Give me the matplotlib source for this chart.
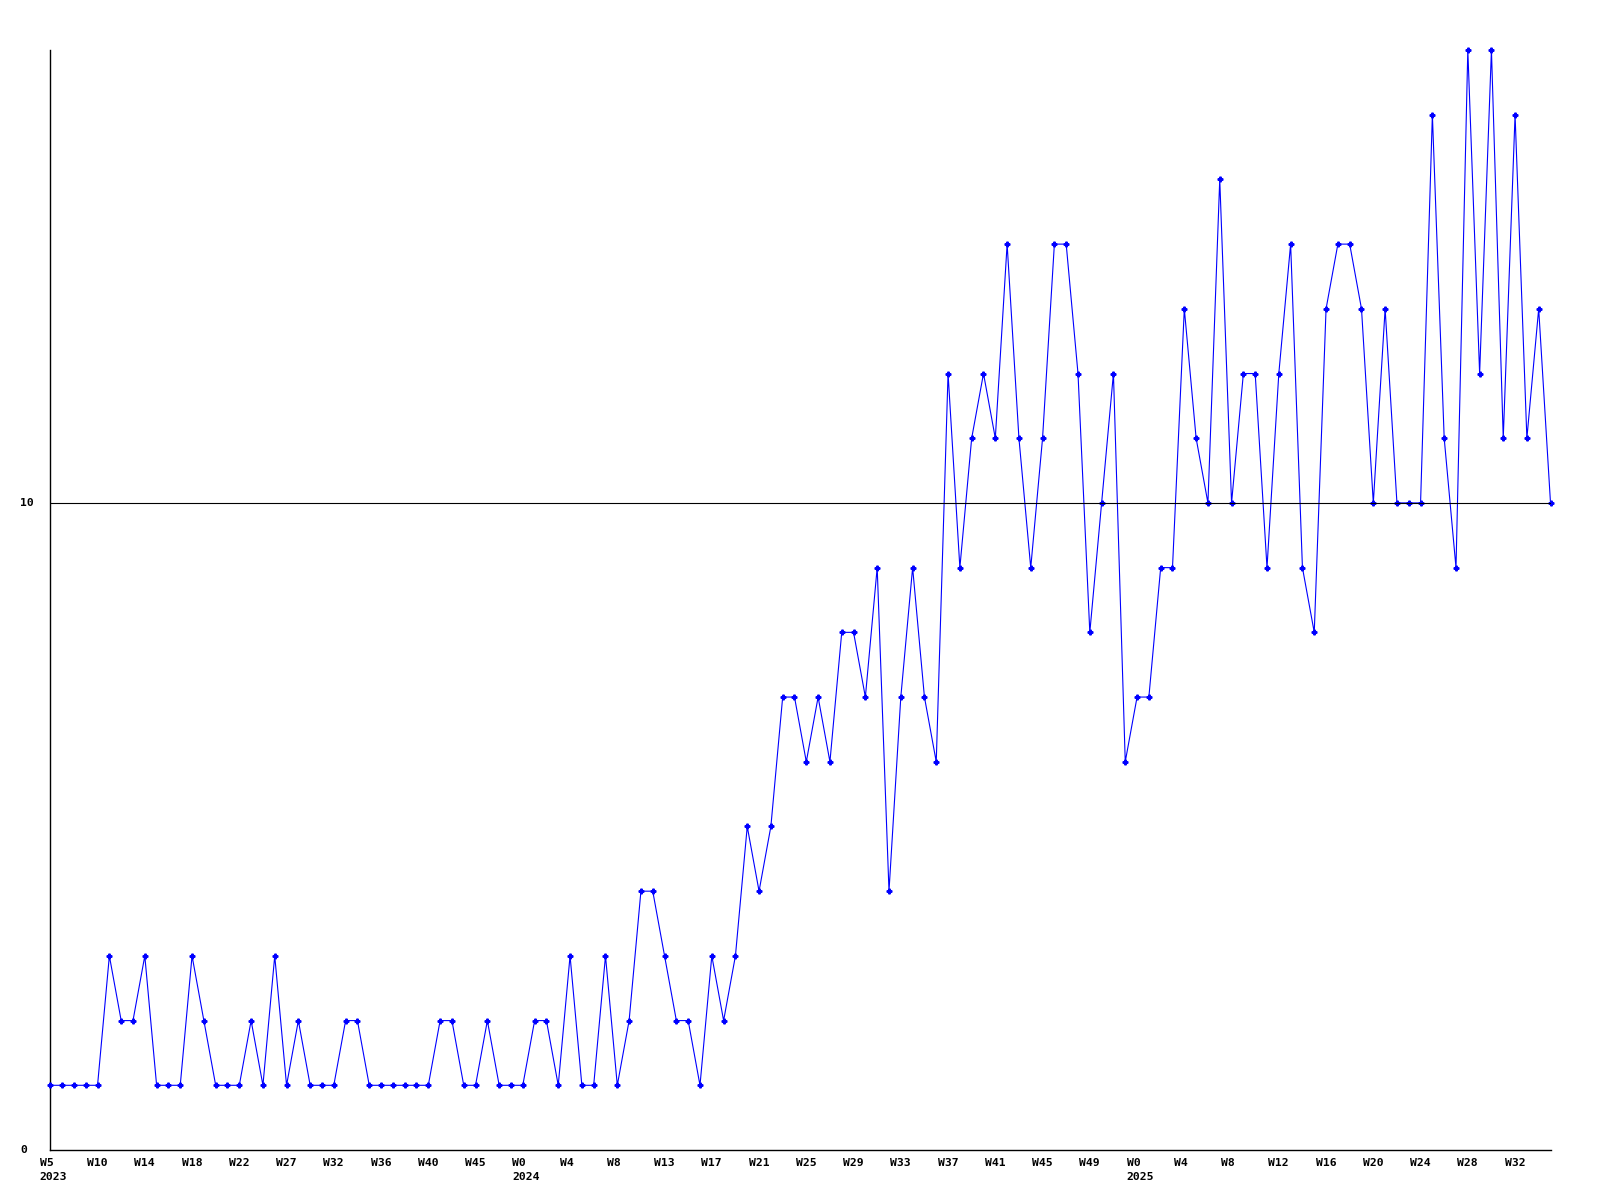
import matplotlib
matplotlib.use("Agg")
import matplotlib.pyplot as plt
import matplotlib.transforms as mtransforms

values = [
    1, 1, 1, 1, 1, 3, 2, 2, 3, 1, 1, 1, 3, 2, 1, 1, 1, 2, 1, 3,
    1, 2, 1, 1, 1, 2, 2, 1, 1, 1, 1, 1, 1, 2, 2, 1, 1, 2, 1, 1,
    1, 2, 2, 1, 3, 1, 1, 3, 1, 2, 4, 4, 3, 2, 2, 1, 3, 2, 3, 5,
    4, 5, 7, 7, 6, 7, 6, 8, 8, 7, 9, 4, 7, 9, 7, 6, 12, 9, 11, 12,
    11, 14, 11, 9, 11, 14, 14, 12, 8, 10, 12, 6, 7, 7, 9, 9, 13, 11, 10, 15,
    10, 12, 12, 9, 12, 14, 9, 8, 13, 14, 14, 13, 10, 13, 10, 10, 10, 16, 11, 9,
    17, 12, 17, 11, 16, 11, 13, 10,
]
week_labels = ["W5", "W10", "W14", "W18", "W22", "W27", "W32", "W36", "W40", "W45",
               "W0", "W4", "W8", "W13", "W17", "W21", "W25", "W29", "W33", "W37",
               "W41", "W45", "W49", "W0", "W4", "W8", "W12", "W16", "W20", "W24",
               "W28", "W32"]
label_step = 4
year_labels = {0: "2023", 40: "2024", 92: "2025"}
y_labels = [0, 10]
y_max = 17

fig = plt.figure(figsize=(16, 12), dpi=100)
ax = fig.add_axes([50.3 / 1600, 1 - 1150 / 1200, 1500.2 / 1600, 1100 / 1200])

x = list(range(len(values)))
ax.plot(x, values, color="#0000FF", lw=0.8, marker="P", ms=3.4,
        mec="#0000FF", mfc="#0000FF", zorder=3, clip_on=False)

ax.set_xlim(0, len(values) - 1)
ax.set_ylim(0, y_max)
for s in ["top", "right"]:
    ax.spines[s].set_visible(False)
for s in ["left", "bottom"]:
    ax.spines[s].set_linewidth(1.0)
    ax.spines[s].set_color("black")
ax.set_xticks([])
ax.set_yticks([])

# horizontal reference lines
for yv in y_labels[1:]:
    ax.axhline(yv, color="black", lw=0.8, zorder=4)

font = dict(family="DejaVu Sans Mono", weight="bold", size=8.2, color="black")

xt = mtransforms.offset_copy(ax.get_xaxis_transform(), fig=fig, x=-10.5, y=0, units="dots")
for i, lab in enumerate(week_labels):
    idx = i * label_step
    ax.text(idx, -12.5 / 1100, lab, transform=xt, ha="left", va="center", **font)
for idx, yr in year_labels.items():
    ax.text(idx, -27.5 / 1100, yr, transform=xt, ha="left", va="center", **font)

yt = mtransforms.blended_transform_factory(fig.transFigure, ax.transData)
for yv in y_labels:
    ax.text(20 / 1600, yv, str(yv), transform=yt, ha="left", va="center", **font)

fig.savefig("out.png", dpi=100, facecolor="white")
